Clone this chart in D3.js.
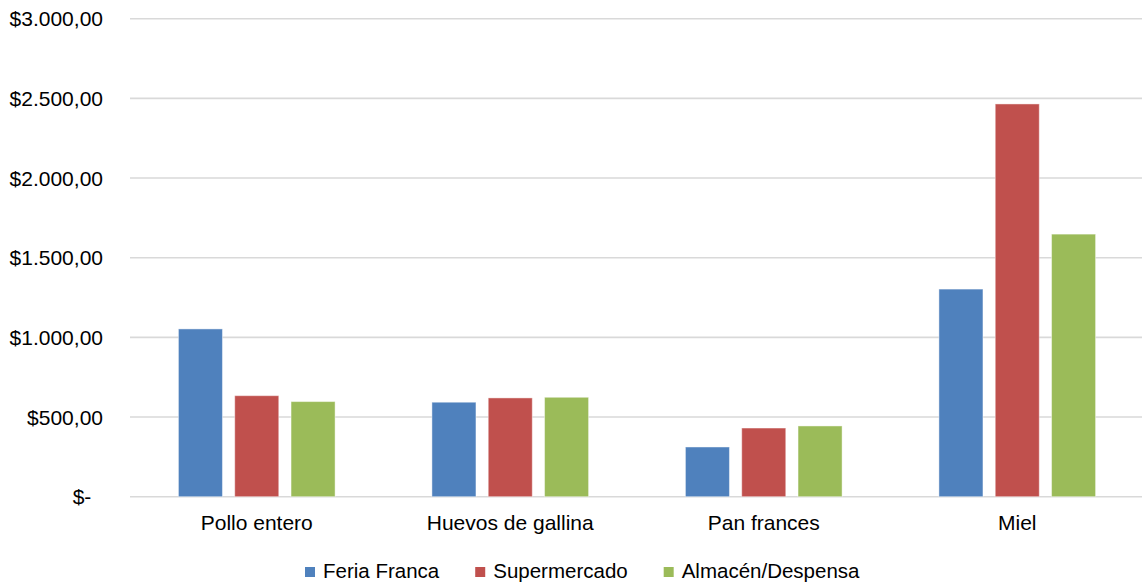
<!DOCTYPE html>
<meta charset="utf-8">
<script src="https://d3js.org/d3.v7.min.js"></script>
<style>
  body { margin: 0; background: #fff; }
  text { font-family: "Liberation Sans", Arial, sans-serif; fill: #000; }
</style>
<svg id="chart" width="1142" height="583"></svg>
<script>

// Data
var categories = ["Pollo entero", "Huevos de gallina", "Pan frances", "Miel"];
var seriesNames = ["Feria Franca", "Supermercado", "Almacén/Despensa"];
var feriaFranca  = [1053, 593, 312, 1303];
var supermercado = [634, 620, 431, 2465];
var almacen      = [597, 624, 444, 1648];
var yTicks = [0, 500, 1000, 1500, 2000, 2500, 3000];
var yTickLabels = ["$-\u00a0\u00a0", "$500,00", "$1.000,00", "$1.500,00", "$2.000,00", "$2.500,00", "$3.000,00"];
var colors = ["#4F81BD", "#C0504D", "#9BBB59"];

var seriesValues = [feriaFranca, supermercado, almacen];

var svg = d3.select("#chart");

// plot area (note: "top" is reserved on window, so use other names)
var plotLeft = 130, plotRight = 1144, plotTop = 18.7, plotBottom = 496.7;

var y = d3.scaleLinear().domain([0, 3000]).range([plotBottom, plotTop]);
var x0 = d3.scaleBand().domain(categories).range([plotLeft, plotRight]).padding(0);
var x1 = d3.scaleBand().domain(seriesNames)
    .range([x0.bandwidth() * 0.191, x0.bandwidth() * 0.809])
    .paddingInner(0.218).paddingOuter(0);

// gridlines
svg.append("g")
  .selectAll("line")
  .data(yTicks)
  .enter()
  .append("line")
    .attr("x1", plotLeft)
    .attr("x2", plotRight)
    .attr("y1", function(d){ return y(d) })
    .attr("y2", function(d){ return y(d) })
    .attr("stroke", "#d9d9d9")
    .attr("stroke-width", 1.6);

// y labels
svg.append("g")
  .selectAll("text")
  .data(yTicks)
  .enter()
  .append("text")
    .attr("x", 103)
    .attr("y", function(d){ return y(d) })
    .attr("dy", "0.36em")
    .attr("text-anchor", "end")
    .style("font-size", "21px")
    .style("white-space", "pre")
    .text(function(d, i){ return yTickLabels[i] });

// bars
var groups = svg.append("g")
  .selectAll("g")
  .data(categories)
  .enter()
  .append("g")
    .attr("transform", function(d){ return "translate(" + x0(d) + ",0)" });

groups.selectAll("rect")
  .data(function(d, ci){
    return seriesNames.map(function(s, si){ return {series: s, idx: si, value: seriesValues[si][ci]} })
  })
  .enter()
  .append("rect")
    .attr("x", function(d){ return x1(d.series) })
    .attr("width", x1.bandwidth())
    .attr("y", function(d){ return y(d.value) })
    .attr("height", function(d){ return plotBottom - y(d.value) })
    .attr("fill", function(d){ return colors[d.idx] })
    .attr("stroke", "#ffffff")
    .attr("stroke-opacity", 0.45)
    .attr("stroke-width", 1);

// category labels
svg.append("g")
  .selectAll("text")
  .data(categories)
  .enter()
  .append("text")
    .attr("x", function(d){ return x0(d) + x0.bandwidth() / 2 })
    .attr("y", 530)
    .attr("text-anchor", "middle")
    .style("font-size", "21px")
    .text(function(d){ return d });

// legend
var legend = svg.append("g");
var lx = 305;
seriesNames.forEach(function(name, i){
  legend.append("rect")
    .attr("x", lx)
    .attr("y", 567)
    .attr("width", 10)
    .attr("height", 10)
    .attr("fill", colors[i]);
  var t = legend.append("text")
    .attr("x", lx + 18)
    .attr("y", 578)
    .style("font-size", "20.5px")
    .text(name);
  lx += 18 + t.node().getComputedTextLength() + 36;
});

</script>
